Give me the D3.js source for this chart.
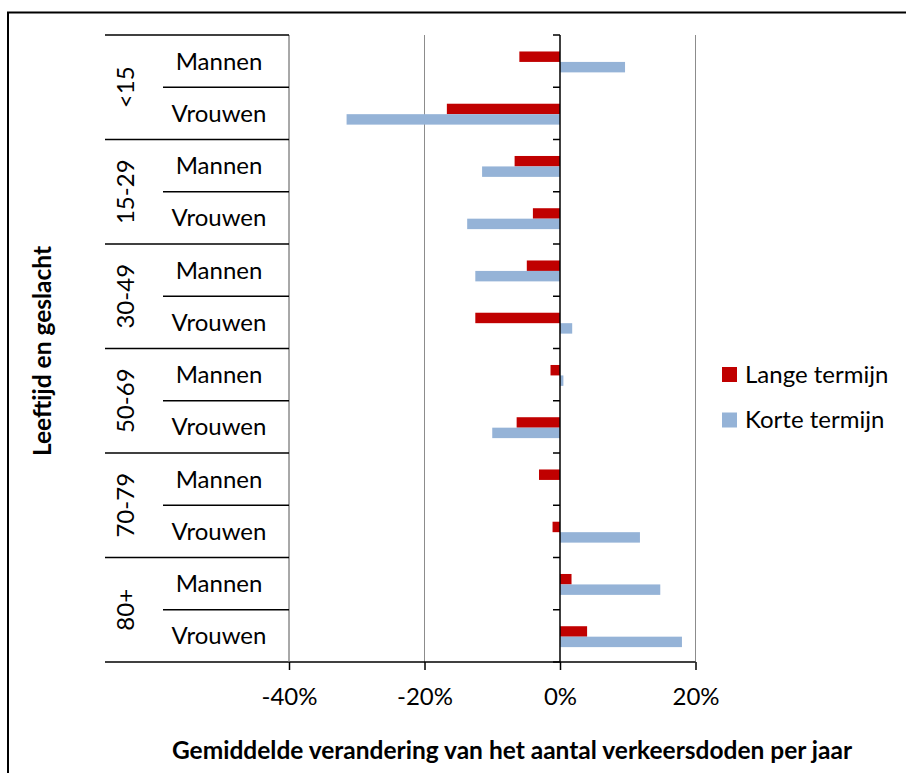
<!DOCTYPE html>
<html>
<head>
<meta charset="utf-8">
<script src="https://cdn.jsdelivr.net/npm/d3@7"></script>
<style>
  html, body { margin: 0; padding: 0; background: #fff; }
  svg { display: block; }
  text { font-family: Lato, "Open Sans", sans-serif; fill: #000; }
</style>
</head>
<body>
<svg id="chart" width="906" height="773"></svg>
<script>
// Age groups and sexes (rows, top to bottom)
const ageGroups = ["<15", "15-29", "30-49", "50-69", "70-79", "80+"];
const sexes = ["Mannen", "Vrouwen"];

// Average yearly change in road deaths (%)
const langeTermijn = [-6.0, -16.7, -6.7, -4.0, -4.9, -12.5, -1.4, -6.4, -3.1, -1.1, 1.7, 4.0];
const korteTermijn = [9.6, -31.5, -11.5, -13.7, -12.5, 1.8, 0.5, -10.0, 0.0, 11.8, 14.8, 18.0];

const seriesNames = ["Lange termijn", "Korte termijn"];
const seriesColors = ["#C00000", "#95B3D7"];

const xTicks = [-40, -20, 0, 20];
const xTickLabels = ["-40%", "-20%", "0%", "20%"];

const xTitle = "Gemiddelde verandering van het aantal verkeersdoden per jaar";
const yTitle = "Leeftijd en geslacht";

// Row keys
const rows = [];
ageGroups.forEach(g => sexes.forEach(s => rows.push(g + "|" + s)));

const svg = d3.select("#chart");

// Outer frame
svg.append("rect")
  .attr("x", 8).attr("y", 12.5)
  .attr("width", 910).attr("height", 780)
  .attr("fill", "none").attr("stroke", "#000").attr("stroke-width", 2);

const plotTop = 35, plotBottom = 662;
const x = d3.scaleLinear().domain([-40, 20]).range([289, 695.5]);
const y = d3.scaleBand().domain(rows).range([plotTop, plotBottom]).paddingInner(0).paddingOuter(0);

// Vertical gridlines
svg.append("g").selectAll("line")
  .data(xTicks.filter(t => t !== 0))
  .join("line")
  .attr("x1", d => x(d)).attr("x2", d => x(d))
  .attr("y1", plotTop).attr("y2", plotBottom)
  .attr("stroke", "#8c8c8c").attr("stroke-width", 1);

// Bars: group takes 1/(1+1.5) of each band
const groupH = y.bandwidth() / 2.5;
const barH = groupH / 2;
const seriesData = [langeTermijn, korteTermijn];
seriesData.forEach((vals, si) => {
  svg.append("g").selectAll("rect")
    .data(vals.map((v, i) => ({ v, row: rows[i] })))
    .join("rect")
    .attr("x", d => x(Math.min(0, d.v)))
    .attr("width", d => Math.abs(x(d.v) - x(0)))
    .attr("y", d => y(d.row) + y.bandwidth() / 2 - groupH / 2 + 0.8 + si * barH)
    .attr("height", barH)
    .attr("fill", seriesColors[si]);
});

// Value axis at zero with tick marks at row boundaries
const zeroAxis = svg.append("g");
zeroAxis.append("line")
  .attr("x1", x(0)).attr("x2", x(0))
  .attr("y1", plotTop).attr("y2", plotBottom)
  .attr("stroke", "#000").attr("stroke-width", 1.5);
const boundaries = rows.map(r => y(r)).concat([plotBottom]);
zeroAxis.selectAll("line.tick")
  .data(boundaries)
  .join("line").attr("class", "tick")
  .attr("x1", x(0) - 7).attr("x2", x(0))
  .attr("y1", d => d).attr("y2", d => d)
  .attr("stroke", "#000").attr("stroke-width", 1.5);

// Bottom axis
const xAxis = d3.axisBottom(x)
  .tickValues(xTicks)
  .tickFormat((d, i) => xTickLabels[i])
  .tickSize(8).tickSizeOuter(0).tickPadding(18);
const gx = svg.append("g").attr("transform", `translate(0,${plotBottom})`).call(xAxis);
gx.select(".domain").remove();
gx.selectAll(".tick line").attr("stroke", "#000").attr("stroke-width", 1.5);
gx.selectAll(".tick text").attr("font-size", 24).attr("font-family", "Lato, sans-serif").attr("fill", "#000");
svg.append("line")
  .attr("x1", 105).attr("x2", x(20))
  .attr("y1", plotBottom).attr("y2", plotBottom)
  .attr("stroke", "#000").attr("stroke-width", 1.5);

// Multi-level category labels on the left
const catG = svg.append("g");
const groupX0 = 105, subX0 = 163, catX1 = 289;
catG.append("line")
  .attr("x1", catX1).attr("x2", catX1)
  .attr("y1", plotTop).attr("y2", plotBottom)
  .attr("stroke", "#8c8c8c");
// separators between age groups
ageGroups.forEach((g, gi) => {
  const yy = y(g + "|" + sexes[0]);
  catG.append("line")
    .attr("x1", groupX0).attr("x2", catX1)
    .attr("y1", yy).attr("y2", yy)
    .attr("stroke", "#000").attr("stroke-width", 1.5);
  const yMid = yy + y.bandwidth();
  catG.append("line")
    .attr("x1", subX0).attr("x2", catX1)
    .attr("y1", yMid).attr("y2", yMid)
    .attr("stroke", "#000").attr("stroke-width", 1.5);
  catG.append("text")
    .attr("transform", `translate(126,${yMid}) rotate(-90)`)
    .attr("text-anchor", "middle")
    .attr("dy", "0.35em")
    .attr("font-size", 24)
    .text(g);
});
rows.forEach(r => {
  catG.append("text")
    .attr("x", 219)
    .attr("y", y(r) + y.bandwidth() / 2)
    .attr("text-anchor", "middle")
    .attr("dy", "0.35em")
    .attr("font-size", 24)
    .text(r.split("|")[1]);
});

// Axis titles
svg.append("text")
  .attr("x", 512).attr("y", 750)
  .attr("text-anchor", "middle")
  .attr("dy", "0.35em")
  .attr("font-size", 24.5)
  .attr("font-weight", "bold")
  .text(xTitle);
svg.append("text")
  .attr("transform", "translate(42,351) rotate(-90)")
  .attr("text-anchor", "middle")
  .attr("dy", "0.35em")
  .attr("font-size", 24.5)
  .attr("font-weight", "bold")
  .text(yTitle);

// Legend
const legend = svg.append("g");
seriesNames.forEach((name, i) => {
  const ly = 374.5 + i * 45.5;
  legend.append("rect")
    .attr("x", 722).attr("y", ly - 7.5)
    .attr("width", 15).attr("height", 15)
    .attr("fill", seriesColors[i]);
  legend.append("text")
    .attr("x", 745).attr("y", ly)
    .attr("dy", "0.35em")
    .attr("font-size", 24)
    .text(name);
});
</script>
</body>
</html>
